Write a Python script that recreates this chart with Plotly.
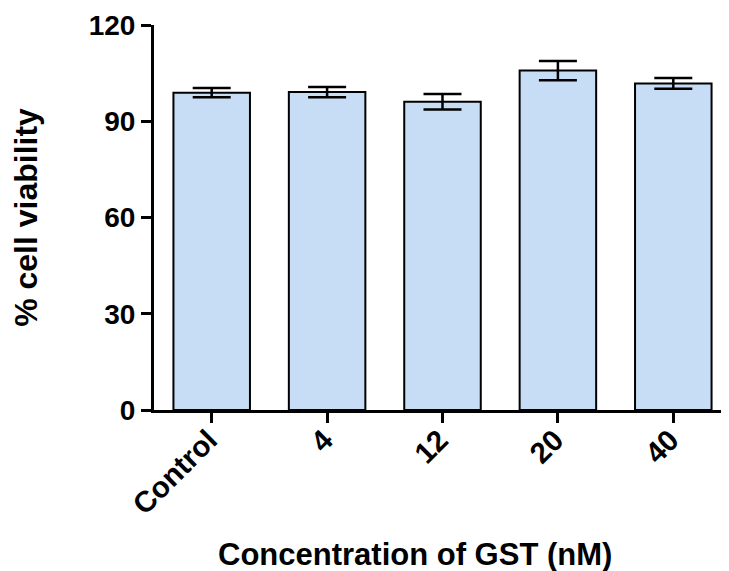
import plotly.graph_objects as go

categories = ["Control", "4", "12", "20", "40"]
viability = [98.9, 99.1, 96.1, 105.8, 101.8]
sem = [1.45, 1.6, 2.4, 3.0, 1.65]
y_ticks = [0, 30, 60, 90, 120]

FONT = "Arial, Liberation Sans, sans-serif"

fig = go.Figure()
fig.add_trace(go.Bar(
    x=categories,
    y=viability,
    width=0.663,
    marker=dict(color="#c7ddf6", line=dict(color="black", width=2)),
    error_y=dict(type="data", array=sem, visible=True, color="black",
                 thickness=2.5, width=19),
))

fig.update_layout(
    width=729, height=571,
    margin=dict(l=146, r=6, t=17, b=169),
    paper_bgcolor="white", plot_bgcolor="white",
    showlegend=False,
    font=dict(family=FONT, color="black"),
)
fig.update_xaxes(
    range=[-0.5, 4.5],
    showline=True, linecolor="black", linewidth=3,
    ticks="outside", ticklen=10, tickwidth=3, tickcolor="black",
    tickangle=-45,
    ticklabelstandoff=-12,
    ticklabelshift=-3,
    tickfont=dict(family=FONT, size=29.5, color="black", weight="bold"),
    showgrid=False, zeroline=False, automargin=False,
)
fig.update_yaxes(
    range=[0, 120],
    tickvals=y_ticks,
    showline=True, linecolor="black", linewidth=3,
    ticks="outside", ticklen=10, tickwidth=3, tickcolor="black",
    tickfont=dict(family=FONT, size=28, color="black", weight="bold"),
    title=dict(text="% cell viability",
               font=dict(family=FONT, size=32, color="black", weight="bold"),
               standoff=47),
    showgrid=False, zeroline=False, automargin=False,
)
fig.add_annotation(
    text="Concentration of GST (nM)",
    xref="paper", yref="paper", x=0.453, y=-0.375,
    xanchor="center", yanchor="middle", showarrow=False,
    font=dict(family=FONT, size=31, color="black", weight="bold"),
)

fig.write_html("out.html")
